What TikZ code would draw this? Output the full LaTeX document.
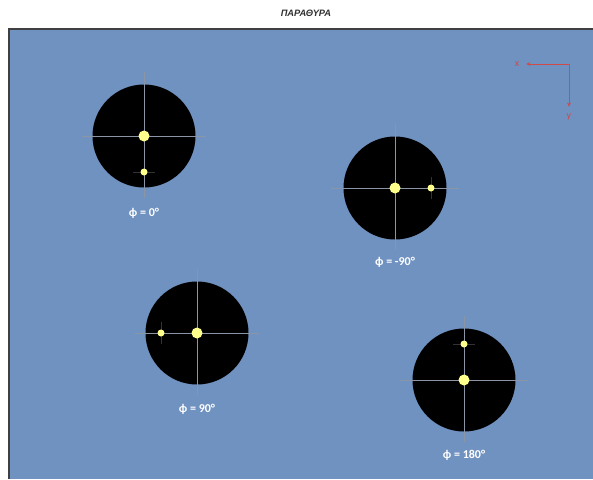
\documentclass[tikz,border=0pt]{standalone}
\usepackage{fontspec}
\setmainfont{Carlito}
\newfontfamily\titlefont{Liberation Sans}
\usetikzlibrary{positioning,arrows.meta}
\definecolor{panel}{HTML}{7092C0}
\definecolor{lamp}{HTML}{FFFF8C}
\definecolor{axred}{HTML}{D04A4A}
\definecolor{hair}{HTML}{8A96A6}
\definecolor{darkhair}{HTML}{333333}
\definecolor{titlegray}{HTML}{303030}

\begin{document}
\begin{tikzpicture}[
  x=1pt, y=-1pt,
  font=\bfseries,
  win/.style={circle, fill=black, draw=none, minimum size=103pt, inner sep=0pt},
  bigdot/.style={circle, fill=lamp, draw=none, minimum size=11pt, inner sep=0pt},
  smalldot/.style={circle, fill=lamp, draw=none, minimum size=7pt, inner sep=0pt},
  cross/.style={draw=hair, line width=0.4pt},
  tick/.style={draw=darkhair, line width=0.8pt},
  lbl/.style={text=white, font=\bfseries\fontsize{12}{14}\selectfont},
  axlbl/.style={text=axred, font=\fontsize{10}{12}\selectfont, inner sep=1pt},
  axarr/.style={-{Stealth[length=4pt,width=4pt]}, draw=axred, line width=1pt},
]
\useasboundingbox (0,0) rectangle (593,479);
\fill[panel] (9,29) rectangle (593,479);
\draw[draw=black!75, line width=1.5pt] (9,479) -- (9,29) -- (593,29);
\node[text=titlegray, font=\titlefont\bfseries\itshape\fontsize{9.3}{11}\selectfont] (title) at (306,13) {ΠΑΡΑΘΥΡΑ};

% axes
\coordinate (o) at (569,64);
\node[axlbl] (xl) at (517,64) {x};
\node[axlbl] (yl) at (569,117) {y};
\draw[axarr] (o) -- ([xshift=6pt]xl.east);
\draw[axarr] (o) -- ([yshift=6pt]yl.north);

% phi = 0
\node[win] (w1) at (144,136) {};
\draw[cross] ([xshift=-10pt]w1.west) -- ([xshift=10pt]w1.east);
\draw[cross] ([yshift=12pt]w1.north) -- ([yshift=-10pt]w1.south);
\draw[tick] (133,172) -- (155,172);
\node[bigdot] (b1) at (w1.center) {};
\node[smalldot] (s1) at (144,172) {};
\node[lbl] (l1) at (144,213) {ϕ = 0°};

% phi = -90
\node[win] (w2) at (395,188) {};
\draw[cross] ([xshift=-12pt]w2.west) -- ([xshift=12pt]w2.east);
\draw[cross] ([yshift=12pt]w2.north) -- ([yshift=-10pt]w2.south);
\draw[tick] (431,177) -- (431,199);
\node[bigdot] (b2) at (w2.center) {};
\node[smalldot] (s2) at (431,188) {};
\node[lbl] (l2) at (395,262) {ϕ = -90°};

% phi = 90
\node[win] (w3) at (197,333) {};
\draw[cross] ([xshift=-10pt]w3.west) -- ([xshift=10pt]w3.east);
\draw[cross] ([yshift=12pt]w3.north) -- ([yshift=-10pt]w3.south);
\draw[tick] (161,322) -- (161,344);
\node[bigdot] (b3) at (w3.center) {};
\node[smalldot] (s3) at (161,333) {};
\node[lbl] (l3) at (197,409) {ϕ = 90°};

% phi = 180
\node[win] (w4) at (464,380) {};
\draw[cross] ([xshift=-12pt]w4.west) -- ([xshift=12pt]w4.east);
\draw[cross] ([yshift=12pt]w4.north) -- ([yshift=-10pt]w4.south);
\draw[tick] (453,344) -- (475,344);
\node[bigdot] (b4) at (w4.center) {};
\node[smalldot] (s4) at (464,344) {};
\node[lbl] (l4) at (464,455) {ϕ = 180°};
\end{tikzpicture}
\end{document}
